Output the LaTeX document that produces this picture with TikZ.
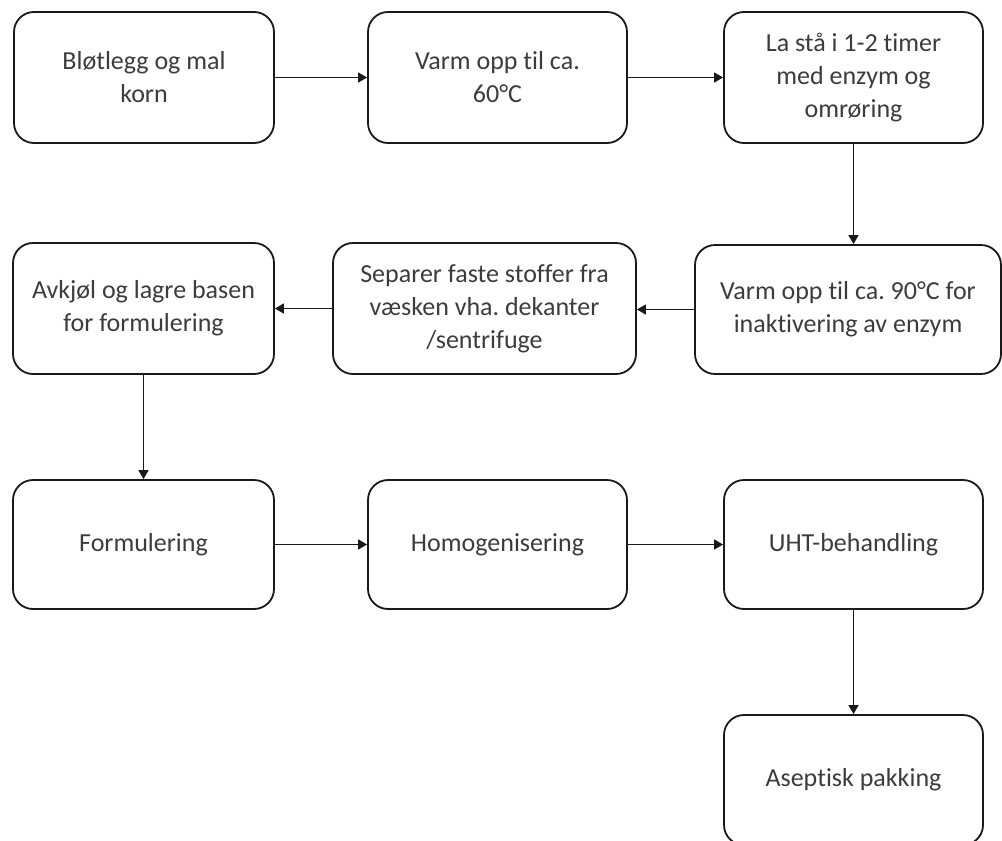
\documentclass[tikz,border=0pt]{standalone}
\usepackage{fontspec}
\setmainfont[RawFeature=-liga]{Carlito}
\frenchspacing
\usetikzlibrary{arrows.meta}
\definecolor{txt}{RGB}{60,60,60}
\definecolor{ln}{RGB}{25,25,25}
\begin{document}
\begin{tikzpicture}[x=1pt,y=-1pt,
  box/.style={draw=ln, line width=1.8pt, rounded corners=20pt, fill=white,
    minimum width=#1, align=center, inner sep=0pt,
    font=\fontsize{26}{33}\selectfont, text=txt},
  box/.default=259pt,
  conn/.style={draw=ln, line width=1.6pt, -{Triangle[length=9pt,width=10pt]}}]
\useasboundingbox (0,0) rectangle (1002,841);
\node[box=260pt, minimum height=131pt] (b1) at (144,77.5) {Bløtlegg og mal\\korn};
\node[box, minimum height=131pt] (b2) at (497.5,77.5) {Varm opp til ca.\\60°C};
\node[box, minimum height=131pt] (b3) at (853.5,77.5) {La stå i 1-2 timer\\med enzym og\\omrøring};
\node[box=261pt, minimum height=131pt] (b4) at (143.5,308.5) {Avkjøl og lagre basen\\for formulering};
\node[box=303pt, minimum height=131pt] (b5) at (484.5,308.5) {Separer faste stoffer fra\\væsken vha. dekanter\\/sentrifuge};
\node[box=306pt, minimum height=129pt] (b6) at (848,309.5) {Varm opp til ca. 90°C for\\inaktivering av enzym};
\node[box=261pt, minimum height=129pt] (b7) at (143.5,544.5) {Formulering};
\node[box, minimum height=129pt] (b8) at (497.5,544.5) {Homogenisering};
\node[box, minimum height=129pt] (b9) at (853.5,544.5) {UHT-behandling};
\node[box, minimum height=130pt] (b10) at (853.5,780) {Aseptisk pakking};
\draw[conn] (b1) -- (b2);
\draw[conn] (b2) -- (b3);
\draw[conn] (b3.south) -- (b3.south |- b6.north);
\draw[conn] (b6.west) -- (b5.east |- b6.west);
\draw[conn] (b5.west) -- (b4.east |- b5.west);
\draw[conn] (b4.south) -- (b4.south |- b7.north);
\draw[conn] (b7) -- (b8);
\draw[conn] (b8) -- (b9);
\draw[conn] (b9) -- (b10);
\end{tikzpicture}
\end{document}
